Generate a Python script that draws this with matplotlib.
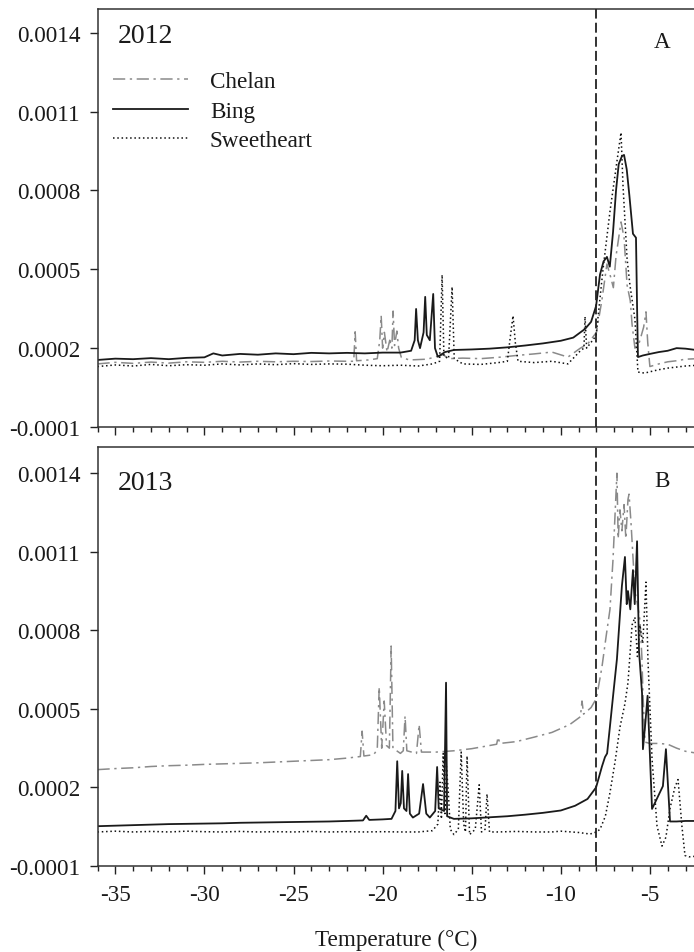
import matplotlib
matplotlib.use('Agg')
import matplotlib.pyplot as plt
from matplotlib.ticker import FixedLocator, MultipleLocator

plt.rcParams['font.family'] = ['Liberation Serif', 'DejaVu Serif']

# ---------------- data ----------------
years = ['2012', '2013']
panel_letters = ['A', 'B']
series_names = ['Chelan', 'Bing', 'Sweetheart']
xtick_vals = [-35, -30, -25, -20, -15, -10, -5]
xtick_labels = ['-35', '-30', '-25', '-20', '-15', '-10', '-5']
ytick_vals = [-0.0001, 0.0002, 0.0005, 0.0008, 0.0011, 0.0014]
ytick_labels = ['-0.0001', '0.0002', '0.0005', '0.0008', '0.0011', '0.0014']
nucleation_T = -8.0
xlabel = 'Temperature (\u00b0C)'

# 2012 (panel A)
chelan12_T = [-36.0, -35.0, -34.0, -33.0, -32.0, -31.0, -30.0, -29.0, -28.0, -27.0, -26.0, -25.0, -24.0, -23.0, -22.0,
              -21.62, -21.54, -21.46, -20.8, -20.3, -20.16, -20.08, -20.0, -19.9, -19.75, -19.6, -19.48, -19.41, -19.33,
              -19.2, -19.1, -18.95, -18.5, -17.5, -16.6, -16.3, -15.5, -14.5, -13.5, -12.5, -11.5, -10.5, -9.6, -8.9,
              -8.5, -8.0, -7.7, -7.41, -7.2, -7.05, -6.9, -6.75, -6.62, -6.45, -6.28, -6.1, -6.0, -5.84, -5.6, -5.35,
              -5.22, -5.12, -5.0, -4.5, -4.0, -3.5, -3.0, -2.3]
chelan12_v = [0.000140, 0.000146, 0.000142, 0.000147, 0.000143, 0.000148, 0.000146, 0.000150, 0.000147, 0.000150,
              0.000148, 0.000150, 0.000149, 0.000151, 0.000150, 0.000150, 0.000262, 0.000152, 0.000155, 0.000160,
              0.000230, 0.000323, 0.000200, 0.000260, 0.000185, 0.000230, 0.000200, 0.000341, 0.000210, 0.000265,
              0.000200, 0.000165, 0.000155, 0.000158, 0.000175, 0.000160, 0.000162, 0.000160, 0.000165, 0.000172,
              0.000178, 0.000185, 0.000166, 0.000200, 0.000215, 0.000260, 0.000380, 0.000520, 0.000470, 0.000430,
              0.000550, 0.000620, 0.000680, 0.000620, 0.000440, 0.000380, 0.000290, 0.000200, 0.000220, 0.000280,
              0.000338, 0.000220, 0.000130, 0.000140, 0.000148, 0.000152, 0.000158, 0.000160]

bing12_T = [-36.0, -35.0, -34.0, -33.0, -32.0, -31.0, -30.0, -29.5, -29.0, -28.0, -27.0, -26.0, -25.0, -24.0, -23.0,
            -22.0, -21.0, -20.0, -19.0, -18.4, -18.2, -18.12, -18.02, -17.9, -17.7, -17.61, -17.52, -17.35, -17.16,
            -17.06, -16.9, -16.5, -16.0, -15.0, -14.0, -13.0, -12.0, -11.0, -10.0, -9.3, -8.64, -8.3, -8.02, -7.8,
            -7.6, -7.41, -7.25, -7.07, -6.9, -6.75, -6.57, -6.45, -6.3, -6.15, -5.95, -5.78, -5.72, -5.67, -5.4,
            -5.0, -4.5, -4.0, -3.5, -3.0, -2.3]
bing12_v = [0.000155, 0.000160, 0.000158, 0.000162, 0.000158, 0.000163, 0.000165, 0.000180, 0.000172, 0.000178,
            0.000175, 0.000180, 0.000177, 0.000182, 0.000180, 0.000182, 0.000180, 0.000183, 0.000183, 0.000190,
            0.000230, 0.000349, 0.000230, 0.000200, 0.000260, 0.000395, 0.000250, 0.000230, 0.000406, 0.000200,
            0.000167, 0.000185, 0.000193, 0.000195, 0.000198, 0.000203, 0.000210, 0.000218, 0.000228, 0.000240,
            0.000273, 0.000300, 0.000360, 0.000480, 0.000530, 0.000547, 0.000510, 0.000640, 0.000800, 0.000900,
            0.000930, 0.000935, 0.000880, 0.000780, 0.000635, 0.000620, 0.000360, 0.000166, 0.000172, 0.000178,
            0.000185, 0.000190, 0.000200, 0.000198, 0.000192]

sweet12_T = [-36.0, -35.0, -34.0, -33.0, -32.0, -31.0, -30.0, -29.0, -28.0, -27.0, -26.0, -25.0, -24.0, -23.0, -22.0,
             -21.0, -20.0, -19.0, -18.0, -17.2, -16.8, -16.66, -16.56, -16.3, -16.1, -15.98, -15.5, -14.5, -13.5,
             -13.0, -12.82, -12.68, -12.55, -12.4, -11.5, -10.5, -9.6, -8.9, -8.7, -8.64, -8.55, -8.02, -7.63, -7.24,
             -6.85, -6.62, -6.51, -6.28, -6.12, -5.84, -5.67, -5.3, -5.0, -4.5, -4.0, -3.5, -3.0, -2.3]
sweet12_v = [0.000130, 0.000136, 0.000132, 0.000138, 0.000133, 0.000137, 0.000135, 0.000140, 0.000136, 0.000140,
             0.000137, 0.000141, 0.000138, 0.000140, 0.000139, 0.000135, 0.000133, 0.000135, 0.000132, 0.000140,
             0.000150, 0.000479, 0.000170, 0.000160, 0.000433, 0.000160, 0.000140, 0.000138, 0.000145, 0.000150,
             0.000250, 0.000323, 0.000220, 0.000150, 0.000145, 0.000150, 0.000140, 0.000190, 0.000200, 0.000320,
             0.000200, 0.000247, 0.000500, 0.000720, 0.000910, 0.001020, 0.000820, 0.000540, 0.000440, 0.000310,
             0.000109, 0.000105, 0.000110, 0.000118, 0.000124, 0.000128, 0.000132, 0.000135]

# 2013 (panel B)
chelan13_T = [-36.0, -35.0, -34.0, -33.0, -32.0, -31.0, -30.0, -29.0, -28.0, -27.0, -26.0, -25.0, -24.0, -23.0, -22.0,
              -21.25, -21.15, -21.05, -20.5, -20.3, -20.19, -20.05, -19.91, -19.78, -19.62, -19.52, -19.42, -19.0,
              -18.84, -18.74, -18.64, -18.1, -17.95, -17.82, -17.0, -16.0, -15.0, -14.0, -13.6, -13.52, -13.42, -12.5,
              -11.5, -10.5, -9.5, -8.9, -8.81, -8.72, -8.3, -8.0, -7.69, -7.45, -7.24, -7.07, -6.95, -6.85, -6.78,
              -6.68, -6.57, -6.45, -6.35, -6.23, -6.17, -6.05, -5.95, -5.84, -5.7, -5.56, -5.45, -5.39, -5.27, -5.0,
              -4.5, -4.0, -3.5, -3.0, -2.3]
chelan13_v = [0.000268, 0.000272, 0.000275, 0.000280, 0.000283, 0.000285, 0.000288, 0.000290, 0.000292, 0.000294,
              0.000297, 0.000300, 0.000303, 0.000306, 0.000312, 0.000318, 0.000415, 0.000320, 0.000325, 0.000345,
              0.000583, 0.000350, 0.000530, 0.000360, 0.000350, 0.000740, 0.000350, 0.000330, 0.000340, 0.000473,
              0.000340, 0.000330, 0.000440, 0.000335, 0.000335, 0.000340, 0.000348, 0.000360, 0.000365, 0.000392,
              0.000368, 0.000375, 0.000392, 0.000410, 0.000440, 0.000470, 0.000530, 0.000480, 0.000505, 0.000540,
              0.000660, 0.000780, 0.000880, 0.001070, 0.001250, 0.001400, 0.001150, 0.001260, 0.001180, 0.001280,
              0.001150, 0.001300, 0.001320, 0.001200, 0.001080, 0.000950, 0.000900, 0.000840, 0.000700, 0.000560,
              0.000373, 0.000368, 0.000368, 0.000365, 0.000350, 0.000338, 0.000330]

bing13_T = [-36.0, -35.0, -34.0, -33.0, -32.0, -31.0, -30.0, -29.0, -28.0, -27.0, -26.0, -25.0, -24.0, -23.0, -22.0,
            -21.1, -20.92, -20.75, -20.0, -19.5, -19.28, -19.18, -19.08, -18.98, -18.90, -18.80, -18.66, -18.57,
            -18.47, -18.3, -17.95, -17.73, -17.55, -17.35, -17.05, -16.94, -16.85, -16.55, -16.44, -16.38, -16.0,
            -15.0, -14.0, -13.0, -12.0, -11.0, -10.0, -9.2, -8.5, -8.02, -7.69, -7.52, -7.4, -7.24, -7.05, -6.85,
            -6.57, -6.40, -6.3, -6.23, -6.1, -5.95, -5.85, -5.72, -5.61, -5.44, -5.39, -5.25, -5.13, -4.88, -4.27,
            -4.10, -3.87, -3.5, -3.0, -2.3]
bing13_v = [0.000052, 0.000054, 0.000056, 0.000058, 0.000060, 0.000061, 0.000062, 0.000063, 0.000065, 0.000066,
            0.000067, 0.000068, 0.000069, 0.000070, 0.000072, 0.000074, 0.000092, 0.000076, 0.000078, 0.000080,
            0.000110, 0.000300, 0.000120, 0.000140, 0.000263, 0.000120, 0.000110, 0.000251, 0.000100, 0.000085,
            0.000100, 0.000213, 0.000100, 0.000085, 0.000110, 0.000278, 0.000120, 0.000110, 0.000600, 0.000090,
            0.000080, 0.000082, 0.000086, 0.000090, 0.000096, 0.000103, 0.000112, 0.000130, 0.000156, 0.000200,
            0.000280, 0.000316, 0.000330, 0.000434, 0.000560, 0.000690, 0.000970, 0.001080, 0.000900, 0.000950,
            0.000880, 0.001030, 0.000900, 0.001140, 0.000720, 0.000560, 0.000346, 0.000450, 0.000550, 0.000118,
            0.000205, 0.000346, 0.000070, 0.000070, 0.000072, 0.000072]

sweet13_T = [-36.0, -35.0, -34.0, -33.0, -32.0, -31.0, -30.0, -29.0, -28.0, -27.0, -26.0, -25.0, -24.0, -23.0, -22.0,
             -21.0, -20.0, -19.0, -18.0, -17.2, -16.9, -16.78, -16.7, -16.6, -16.5, -16.42, -16.32, -16.2, -16.0,
             -15.75, -15.59, -15.45, -15.35, -15.26, -15.12, -14.8, -14.58, -14.45, -14.25, -14.14, -14.0, -13.5,
             -12.5, -11.5, -10.5, -10.0, -9.0, -8.36, -8.0, -7.80, -7.5, -7.24, -6.95, -6.68, -6.4, -6.23, -6.0,
             -5.84, -5.7, -5.56, -5.4, -5.22, -5.11, -4.88, -4.60, -4.32, -4.1, -3.87, -3.6, -3.42, -3.2, -3.03,
             -2.8, -2.3]
sweet13_v = [0.000030, 0.000033, 0.000030, 0.000032, 0.000030, 0.000033, 0.000031, 0.000030, 0.000032, 0.000030,
             0.000031, 0.000030, 0.000032, 0.000030, 0.000031, 0.000030, 0.000031, 0.000030, 0.000030, 0.000035,
             0.000060, 0.000220, 0.000080, 0.000330, 0.000100, 0.000280, 0.000190, 0.000040, 0.000020, 0.000040,
             0.000335, 0.000060, 0.000030, 0.000320, 0.000020, 0.000040, 0.000210, 0.000030, 0.000040, 0.000175,
             0.000030, 0.000030, 0.000032, 0.000030, 0.000030, 0.000033, 0.000028, 0.000022, 0.000030, 0.000040,
             0.000090, 0.000180, 0.000300, 0.000430, 0.000520, 0.000600, 0.000820, 0.000850, 0.000700, 0.000820,
             0.000750, 0.000984, 0.000690, 0.000310, 0.000053, -0.000024, 0.000010, 0.000120, 0.000200, 0.000230,
             0.000050, -0.000060, -0.000065, -0.000062]

panels = [
    {'year': years[0], 'letter': panel_letters[0],
     'series': [(chelan12_T, chelan12_v), (sweet12_T, sweet12_v), (bing12_T, bing12_v)]},
    {'year': years[1], 'letter': panel_letters[1],
     'series': [(chelan13_T, chelan13_v), (sweet13_T, sweet13_v), (bing13_T, bing13_v)]},
]

# ---------------- styles ----------------
styles = {
    'Chelan': dict(color='#8a8a8a', lw=1.1, ls=(0, (8, 3, 1.5, 3))),
    'Sweetheart': dict(color='#111111', lw=1.1, ls=(0, (1, 1.8))),
    'Bing': dict(color='#1a1a1a', lw=1.3, ls='-'),
}
draw_order = ['Chelan', 'Sweetheart', 'Bing']
text_color = '#1a1a1a'
FS = 16.7

W_PX, H_PX = 694, 953
fig = plt.figure(figsize=(W_PX / 100, H_PX / 100), dpi=100)

left_px, right_px = 97.5, 698
tops_px = [10, 448]
bottoms_px = [428, 867]

axes = []
for i, p in enumerate(panels):
    ax = fig.add_axes([left_px / W_PX, 1 - bottoms_px[i] / H_PX,
                       (right_px - left_px) / W_PX, (bottoms_px[i] - tops_px[i]) / H_PX])
    handles = {}
    for name, (T, v) in zip(draw_order, p['series']):
        ln, = ax.plot(T, v, **styles[name], label=name)
        handles[name] = ln
    ax.axvline(nucleation_T, color='#222222', lw=1.3, ls=(0, (5.5, 2.3)), zorder=5)
    ax.set_xlim(-36, -2.3)
    ax.set_ylim(-0.0001, 0.00149 if i == 0 else 0.0015)
    ax.yaxis.set_major_locator(FixedLocator(ytick_vals))
    ax.set_yticklabels(ytick_labels)
    ax.xaxis.set_major_locator(FixedLocator(xtick_vals))
    ax.xaxis.set_minor_locator(MultipleLocator(1))
    if i == 1:
        ax.set_xticklabels(xtick_labels)
    else:
        ax.set_xticklabels([])
    ax.tick_params(axis='both', which='major', direction='out', length=6, width=1.0,
                   labelsize=FS, colors='#222222', labelcolor=text_color)
    ax.tick_params(axis='y', pad=6.5)
    ax.tick_params(axis='x', pad=7)
    ax.tick_params(axis='x', which='minor', direction='out', length=3.5, width=1.0, colors='#222222')
    ax.tick_params(top=False, right=False)
    for s in ['left', 'bottom', 'top']:
        ax.spines[s].set_linewidth(1.1)
        ax.spines[s].set_color('#333333')
    ax.spines['right'].set_visible(False)
    ax.text(0.033, 0.922 if i == 0 else 0.9, p['year'], transform=ax.transAxes,
            fontsize=20, color=text_color, va='baseline', ha='left')
    ax.text(0.94, 0.908, p['letter'], transform=ax.transAxes,
            fontsize=FS, color=text_color, va='baseline', ha='center')
    if i == 0:
        leg = ax.legend([handles[n] for n in series_names], series_names,
                        loc='upper left', bbox_to_anchor=(0.025, 0.852), frameon=False,
                        fontsize=FS, handlelength=3.25, handletextpad=0.95, labelspacing=0.36,
                        borderpad=0, borderaxespad=0)
        for t in leg.get_texts():
            t.set_color(text_color)
    axes.append(ax)

fig.text(396 / W_PX, 1 - 940 / H_PX, xlabel, fontsize=FS, color=text_color, ha='center', va='center')

fig.savefig('out.png', dpi=100)
